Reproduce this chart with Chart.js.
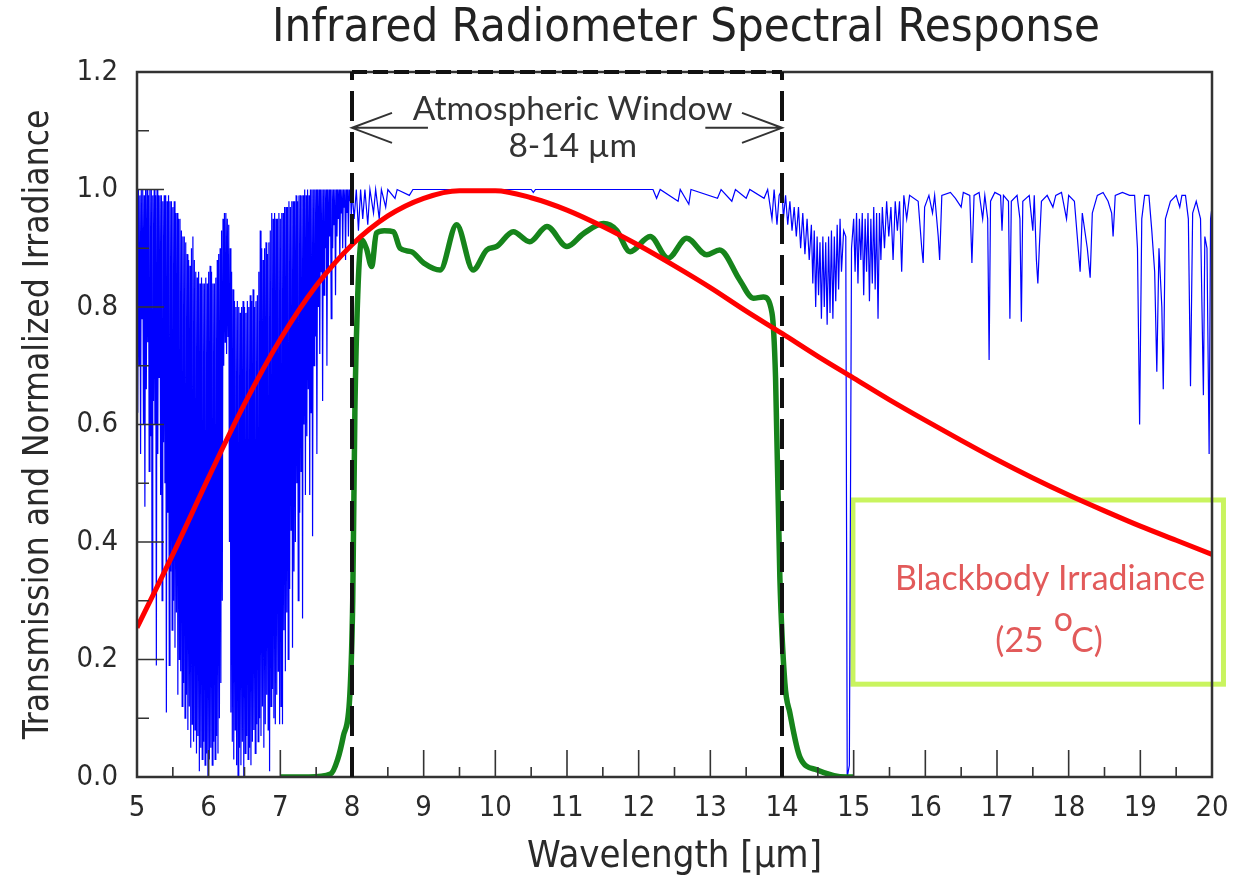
<!DOCTYPE html>
<html>
<head>
<meta charset="utf-8">
<title>Infrared Radiometer Spectral Response</title>
<script src="https://cdn.jsdelivr.net/npm/chart.js@4.4.1/dist/chart.umd.min.js"></script>
<style>
  html, body { margin: 0; padding: 0; background: #fff; }
  canvas { display: block; }
</style>
</head>
<body>
<canvas id="chart" width="1236" height="891"></canvas>
<script>
// Blackbody irradiance at 25 C, normalised to its peak
const blackbodyWl = [5, 5.5, 6, 6.5, 7, 7.5, 8, 8.5, 9, 9.5, 10, 10.5, 11, 11.5, 12, 12.5, 13, 13.5,
  14, 14.5, 15, 15.5, 16, 16.5, 17, 17.5, 18, 18.5, 19, 19.5, 20];
const blackbody = [0.254, 0.379, 0.510, 0.635, 0.745, 0.836, 0.906, 0.955, 0.985, 0.998, 0.998, 0.986,
  0.965, 0.937, 0.905, 0.870, 0.833, 0.793, 0.755, 0.716, 0.679, 0.642, 0.607, 0.573, 0.540, 0.509,
  0.480, 0.453, 0.427, 0.403, 0.379];

// radiometer response (green)
const responseWl = [7.0, 7.4, 7.7, 7.8, 7.88, 7.97, 8.01, 8.04, 8.08, 8.135, 8.2, 8.275, 8.34, 8.45,
  8.58, 8.67, 8.83, 9.0, 9.23, 9.46, 9.69, 9.88, 10.02, 10.25, 10.48, 10.72, 11.0, 11.23, 11.51, 11.69,
  11.88, 12.16, 12.41, 12.67, 12.95, 13.13, 13.41, 13.6, 13.74, 13.86, 13.91, 13.97, 14.04, 14.11,
  14.25, 14.49, 14.9, 15.0];
const response = [0, 0, 0.005, 0.03, 0.07, 0.14, 0.3, 0.62, 0.82, 0.914, 0.9, 0.869, 0.926, 0.93,
  0.928, 0.9, 0.894, 0.875, 0.863, 0.94, 0.863, 0.897, 0.903, 0.928, 0.911, 0.937, 0.903, 0.925, 0.942,
  0.931, 0.894, 0.92, 0.883, 0.917, 0.889, 0.897, 0.846, 0.815, 0.817, 0.79, 0.68, 0.34, 0.16, 0.109,
  0.034, 0.012, 0, 0];

// atmospheric transmission (blue), [wavelength, transmission]
const transmission = [
  // water vapour band
  [5.00,1.00],[5.01,0.62],[5.02,1.00],[5.03,0.70],[5.04,0.99],[5.05,0.55],[5.06,1.00],[5.07,0.78],
  [5.08,1.00],[5.09,0.60],[5.10,0.99],[5.11,0.46],[5.12,1.00],[5.13,0.66],[5.14,1.00],[5.15,0.74],
  [5.16,0.99],[5.17,0.52],[5.18,1.00],[5.19,0.58],[5.20,1.00],[5.21,0.31],[5.22,0.99],[5.23,0.64],
  [5.24,1.00],[5.25,0.60],[5.26,0.99],[5.27,0.19],[5.28,1.00],[5.29,0.55],[5.30,0.99],[5.31,0.68],
  [5.32,0.99],[5.33,0.48],[5.34,0.99],[5.35,0.30],[5.36,0.98],[5.37,0.57],[5.38,0.99],[5.39,0.50],
  [5.40,0.99],[5.41,0.11],[5.42,0.98],[5.43,0.45],[5.44,0.99],[5.45,0.19],[5.46,0.98],[5.47,0.35],
  [5.48,0.98],[5.49,0.25],[5.50,0.97],[5.51,0.30],[5.52,0.98],[5.53,0.22],[5.54,0.96],[5.55,0.28],
  [5.56,0.96],[5.57,0.14],[5.58,0.95],[5.59,0.20],[5.60,0.95],[5.61,0.18],[5.62,0.93],[5.63,0.12],
  [5.64,0.92],[5.65,0.16],[5.66,0.92],[5.67,0.10],[5.68,0.91],[5.69,0.14],[5.70,0.89],[5.71,0.08],
  [5.72,0.88],[5.73,0.12],[5.74,0.87],[5.75,0.05],[5.76,0.90],[5.77,0.09],[5.78,0.92],[5.79,0.06],
  [5.80,0.88],[5.81,0.08],[5.82,0.86],[5.83,0.04],[5.84,0.85],[5.85,0.07],[5.86,0.86],[5.87,0.01],
  [5.88,0.84],[5.89,0.05],[5.90,0.85],[5.91,0.03],[5.92,0.84],[5.93,0.06],[5.94,0.84],[5.95,0.02],
  [5.96,0.85],[5.97,0.04],[5.98,0.84],[5.99,0.00],[6.00,0.86],[6.01,0.03],[6.02,0.87],[6.03,0.05],
  [6.04,0.86],[6.05,0.02],[6.06,0.84],[6.07,0.06],[6.08,0.84],[6.09,0.03],[6.10,0.85],[6.11,0.07],
  [6.12,0.88],[6.13,0.04],[6.14,0.89],[6.15,0.10],[6.16,0.90],[6.17,0.16],[6.18,0.93],[6.19,0.30],
  [6.20,0.95],[6.21,0.70],[6.22,0.96],[6.23,0.74],[6.24,0.96],[6.25,0.72],[6.26,0.95],[6.27,0.75],
  [6.28,0.94],[6.29,0.40],[6.30,0.90],[6.31,0.11],[6.32,0.86],[6.33,0.06],[6.34,0.83],[6.35,0.03],
  [6.36,0.81],[6.37,0.08],[6.38,0.80],[6.39,0.02],[6.40,0.81],[6.41,0.00],[6.42,0.80],[6.43,0.05],
  [6.44,0.79],[6.45,0.02],[6.46,0.80],[6.47,0.06],[6.48,0.81],[6.49,0.00],[6.50,0.80],[6.51,0.04],
  [6.52,0.79],[6.53,0.07],[6.54,0.81],[6.55,0.03],[6.56,0.80],[6.57,0.05],[6.58,0.82],[6.59,0.02],
  [6.60,0.81],[6.61,0.06],[6.62,0.83],[6.63,0.08],[6.64,0.80],[6.65,0.04],[6.66,0.81],[6.67,0.09],
  [6.68,0.82],[6.69,0.06],[6.70,0.86],[6.71,0.10],[6.72,0.93],[6.73,0.07],[6.74,0.90],[6.75,0.12],
  [6.76,0.88],[6.77,0.05],[6.78,0.90],[6.79,0.09],[6.80,0.91],[6.81,0.14],[6.82,0.89],[6.83,0.08],
  [6.84,0.91],[6.85,0.01],[6.86,0.93],[6.87,0.12],[6.88,0.96],[6.89,0.15],[6.90,0.95],[6.91,0.10],
  [6.92,0.96],[6.93,0.09],[6.94,0.95],[6.95,0.14],[6.96,0.95],[6.97,0.18],[6.98,0.96],[6.99,0.09],
  [7.00,0.95],[7.01,0.12],[7.02,0.96],[7.03,0.09],[7.04,0.96],[7.05,0.25],[7.06,0.97],[7.07,0.18],
  [7.08,0.97],[7.09,0.28],[7.10,0.97],[7.11,0.20],[7.12,0.98],[7.13,0.32],[7.14,0.97],[7.15,0.42],
  [7.16,0.98],[7.17,0.22],[7.18,0.98],[7.19,0.35],[7.20,0.98],[7.21,0.40],[7.22,0.99],[7.23,0.50],
  [7.24,0.98],[7.25,0.30],[7.26,0.99],[7.27,0.45],[7.28,0.99],[7.29,0.52],[7.30,0.99],[7.31,0.27],
  [7.32,0.99],[7.33,0.60],[7.34,1.00],[7.35,0.48],[7.36,0.99],[7.37,0.58],[7.38,1.00],[7.39,0.66],
  [7.40,0.99],[7.41,0.48],[7.42,1.00],[7.43,0.62],[7.44,1.00],[7.45,0.41],[7.46,1.00],[7.47,0.70],
  [7.48,1.00],[7.49,0.75],[7.50,1.00],[7.51,0.55],[7.52,1.00],[7.53,0.80],[7.54,1.00],[7.55,0.72],
  [7.56,1.00],[7.57,0.86],[7.58,1.00],[7.59,0.64],[7.60,1.00],[7.61,0.82],[7.62,1.00],[7.63,0.90],
  [7.64,1.00],[7.65,0.70],[7.66,1.00],[7.67,0.86],[7.68,1.00],[7.69,0.92],[7.70,1.00],[7.71,0.78],
  [7.72,1.00],[7.73,0.90],[7.74,1.00],[7.75,0.94],[7.76,1.00],[7.77,0.82],[7.78,1.00],[7.79,0.92],
  [7.80,1.00],[7.81,0.95],[7.82,1.00],[7.83,0.88],[7.84,1.00],[7.85,0.96],[7.86,1.00],[7.87,0.90],
  [7.88,1.00],[7.89,0.97],[7.90,1.00],[7.91,0.88],[7.92,1.00],[7.93,0.96],[7.94,1.00],[7.95,0.92],
  [7.96,1.00],[7.97,0.98],[7.98,1.00],[7.99,0.95],
  // 8-14 window
  [8.00,1.00],[8.03,0.95],[8.06,1.00],[8.09,0.93],[8.12,1.00],[8.15,0.95],[8.18,1.00],[8.22,0.94],
  [8.25,1.00],[8.30,0.96],[8.33,1.00],[8.38,0.95],[8.41,1.00],[8.47,0.97],[8.50,1.00],[8.60,0.985],
  [8.63,1.00],[8.80,0.99],[8.85,1.00],[10.50,1.00],[10.53,0.995],[10.56,1.00],[12.20,1.00],
  [12.25,0.985],[12.30,1.00],[12.55,0.98],[12.58,1.00],[12.70,0.975],[12.73,1.00],[13.10,0.985],
  [13.15,1.00],[13.30,0.98],[13.35,1.00],[13.50,0.985],[13.55,1.00],[13.75,0.985],[13.80,1.00],
  [13.86,0.95],[13.89,1.00],[13.93,0.94],[13.96,0.99],
  // CO2 band
  [14.00,1.00],[14.02,0.95],[14.05,0.99],[14.08,0.94],[14.11,0.98],[14.14,0.93],[14.17,0.97],[14.20,0.92],
  [14.23,0.97],[14.26,0.90],[14.29,0.96],[14.32,0.89],[14.35,0.95],[14.38,0.88],[14.41,0.94],[14.43,0.84],
  [14.45,0.93],[14.47,0.80],[14.49,0.92],[14.51,0.82],[14.53,0.91],[14.55,0.78],[14.57,0.92],[14.59,0.80],
  [14.61,0.91],[14.63,0.77],[14.65,0.92],[14.67,0.79],[14.69,0.93],[14.71,0.78],[14.73,0.92],[14.75,0.81],
  [14.77,0.94],[14.79,0.83],[14.81,0.95],[14.83,0.86],[14.86,0.93],[14.89,0.92],[14.91,0.00],[14.94,0.02],
  [14.97,0.90],
  [15.00,0.95],[15.02,0.86],[15.04,0.96],[15.06,0.84],[15.08,0.95],[15.10,0.88],[15.12,0.96],[15.14,0.82],
  [15.16,0.95],[15.18,0.86],[15.20,0.96],[15.22,0.81],[15.24,0.95],[15.26,0.84],[15.28,0.97],[15.30,0.83],
  [15.32,0.96],[15.34,0.78],[15.36,0.96],[15.38,0.88],[15.40,0.97],[15.43,0.90],[15.46,0.98],[15.49,0.92],
  [15.52,0.97],[15.55,0.88],[15.58,0.98],[15.61,0.93],[15.64,0.98],[15.67,0.86],[15.70,0.99],[15.74,0.95],
  [15.78,0.99],
  // long-wave lines
  [15.90,0.98],[15.95,0.90],[15.97,0.875],[15.99,0.97],[16.05,0.99],[16.10,0.96],[16.13,0.99],[16.18,0.92],
  [16.20,0.88],[16.23,0.99],[16.35,0.995],[16.42,0.985],[16.50,0.97],[16.53,0.995],[16.62,0.99],[16.65,0.875],
  [16.68,0.99],[16.75,0.995],[16.80,0.95],[16.83,0.99],[16.87,0.95],[16.89,0.71],[16.91,0.98],[16.97,0.995],
  [17.05,0.99],[17.07,0.93],[17.09,0.99],[17.16,0.98],[17.18,0.78],[17.20,0.98],[17.28,0.99],[17.32,0.95],
  [17.34,0.775],[17.36,0.98],[17.45,0.99],[17.50,0.93],[17.52,0.99],[17.55,0.88],[17.57,0.84],[17.59,0.90],
  [17.62,0.98],[17.70,0.99],[17.78,0.97],[17.82,0.99],[17.90,0.995],[17.97,0.95],[18.00,0.99],[18.08,0.98],
  [18.12,0.92],[18.16,0.86],[18.19,0.96],[18.26,0.90],[18.30,0.85],[18.33,0.96],[18.40,0.99],[18.48,0.995],
  [18.55,0.98],[18.60,0.96],[18.62,0.92],[18.65,0.99],[18.75,0.995],[18.85,0.99],[18.92,0.99],[18.96,0.90],
  [18.99,0.60],[19.02,0.95],[19.06,0.99],[19.12,0.99],[19.16,0.93],[19.20,0.86],[19.23,0.69],[19.26,0.90],
  [19.30,0.80],[19.32,0.66],[19.35,0.95],[19.42,0.98],[19.50,0.99],[19.55,0.97],[19.58,0.99],[19.63,0.99],
  [19.67,0.95],[19.70,0.665],[19.73,0.96],[19.78,0.98],[19.84,0.95],[19.88,0.65],[19.90,0.92],[19.93,0.90],
  [19.96,0.55],[19.98,0.95],[20.00,0.97]
];

const xTicks = [5, 6, 7, 8, 9, 10, 11, 12, 13, 14, 15, 16, 17, 18, 19, 20];
const yTicks = [0, 0.2, 0.4, 0.6, 0.8, 1.0, 1.2];
const windowRange = [8, 14];

function hasFont(name) {
  const c = document.createElement('canvas').getContext('2d');
  c.font = '40px monospace';
  const base = c.measureText('Radiometer 0.8').width;
  c.font = `40px "${name}", monospace`;
  return c.measureText('Radiometer 0.8').width !== base;
}

const narrowName = ['Liberation Sans Narrow', 'DejaVu Sans Condensed', 'Roboto'].find(hasFont) || 'Open Sans';
const NARROW = `"${narrowName}", sans-serif`;
const PLAIN = 'Lato, "Open Sans", sans-serif';

// font size that makes a text span a given width
function fitSize(text, family, width) {
  const c = document.createElement('canvas').getContext('2d');
  c.font = `100px ${family}`;
  return 100 * width / c.measureText(text).width;
}

const yTitleSize = fitSize('Transmission and Normalized Irradiance', NARROW, 630);
const xTitleSize = fitSize('Wavelength [\u00b5m]', NARROW, 295);

function text(ctx, str, x, y, size, family, color, align = 'center') {
  ctx.font = `${size}px ${family}`;
  ctx.fillStyle = color;
  ctx.textAlign = align;
  ctx.textBaseline = 'alphabetic';
  ctx.fillText(str, x, y);
}

function arrow(ctx, from, to, y) {
  const dir = Math.sign(to - from);
  ctx.beginPath();
  ctx.moveTo(from, y);
  ctx.lineTo(to, y);
  ctx.moveTo(to - dir * 40, y - 15);
  ctx.lineTo(to, y);
  ctx.lineTo(to - dir * 40, y + 15);
  ctx.stroke();
}

const highlightBox = {
  id: 'highlightBox',
  beforeDatasetsDraw(chart) {
    const { ctx, scales: { x, y } } = chart;
    const l = x.getPixelForValue(14.99), r = x.getPixelForValue(20.16);
    const t = y.getPixelForValue(0.4715), b = y.getPixelForValue(0.158);
    ctx.save();
    ctx.strokeStyle = '#c9f45f';
    ctx.lineWidth = 5;
    ctx.strokeRect(l, t, r - l, b - t);
    ctx.restore();
  }
};

const decorations = {
  id: 'decorations',
  afterDatasetsDraw(chart) {
    const { ctx, chartArea: a, scales: { x, y } } = chart;
    ctx.save();

    // frame
    ctx.strokeStyle = '#333';
    ctx.lineWidth = 2.5;
    ctx.strokeRect(a.left, a.top, a.right - a.left, a.bottom - a.top);

    // inward tick marks
    ctx.lineWidth = 1.6;
    ctx.beginPath();
    for (let i = 0; i <= 30; i++) {
      const px = x.getPixelForValue(5 + i * 0.5);
      const len = i % 2 === 0 ? 27 : 10;
      ctx.moveTo(px, a.bottom);
      ctx.lineTo(px, a.bottom - len);
    }
    for (let i = 0; i <= 12; i++) {
      const py = y.getPixelForValue(i / 10);
      const len = i % 2 === 0 ? 27 : 12;
      ctx.moveTo(a.left, py);
      ctx.lineTo(a.left + len, py);
    }
    ctx.stroke();

    // atmospheric window markers
    const x8 = x.getPixelForValue(windowRange[0]);
    const x14 = x.getPixelForValue(windowRange[1]);
    ctx.strokeStyle = '#111';
    ctx.lineWidth = 4;
    ctx.setLineDash([30, 11]);
    ctx.beginPath();
    ctx.moveTo(x8, a.bottom); ctx.lineTo(x8, a.top);
    ctx.moveTo(x14, a.bottom); ctx.lineTo(x14, a.top);
    ctx.stroke();
    ctx.setLineDash([15, 6]);
    ctx.beginPath();
    ctx.moveTo(x8, a.top); ctx.lineTo(x14, a.top);
    ctx.stroke();
    ctx.setLineDash([]);

    const ay = y.getPixelForValue(1.105);
    ctx.strokeStyle = '#333';
    ctx.lineWidth = 2;
    arrow(ctx, x.getPixelForValue(9.06), x8, ay);
    arrow(ctx, x.getPixelForValue(12.93), x14, ay);

    const cx = x.getPixelForValue(11.08);
    const s1 = fitSize('Atmospheric Window', PLAIN, 320);
    text(ctx, 'Atmospheric Window', cx, y.getPixelForValue(1.118), s1, PLAIN, '#333');
    text(ctx, '8-14 \u00b5m', cx, y.getPixelForValue(1.055), s1, PLAIN, '#333');

    // blackbody label
    const red = '#e25a5a';
    const bx = x.getPixelForValue(17.74);
    const s2 = fitSize('Blackbody Irradiance', PLAIN, 310);
    text(ctx, 'Blackbody Irradiance', bx, y.getPixelForValue(0.318), s2, PLAIN, red);
    ctx.font = `${s2}px ${PLAIN}`;
    const w1 = ctx.measureText('(25').width, wGap = s2 * 0.3;
    const w2 = ctx.measureText('o').width, w3 = ctx.measureText('C)').width;
    let px = bx - (w1 + wGap + w2 + w3) / 2;
    const base = y.getPixelForValue(0.213);
    text(ctx, '(25', px, base, s2, PLAIN, red, 'left');
    px += w1 + wGap;
    text(ctx, 'o', px, base - s2 * 0.62, s2, PLAIN, red, 'left');
    px += w2 - 2;
    text(ctx, 'C)', px, base, s2, PLAIN, red, 'left');

    ctx.restore();
  },
  afterDraw(chart) {
    const { ctx } = chart;
    ctx.save();
    const size = fitSize('Infrared Radiometer Spectral Response', NARROW, 828);
    text(ctx, 'Infrared Radiometer Spectral Response', 686, 41, size, NARROW, '#222');
    ctx.restore();
  }
};

const axisColor = '#2a2a2a';

new Chart(document.getElementById('chart'), {
  type: 'line',
  data: {
    datasets: [
      {
        label: 'Blackbody Irradiance (25 \u00b0C)',
        data: blackbodyWl.map((w, i) => ({ x: w, y: blackbody[i] })),
        borderColor: '#ff0000',
        borderWidth: 5,
        pointRadius: 0,
        cubicInterpolationMode: 'monotone',
        order: 0
      },
      {
        label: 'Radiometer response',
        data: responseWl.map((w, i) => ({ x: w, y: response[i] })),
        borderColor: '#16841b',
        borderWidth: 5.5,
        pointRadius: 0,
        cubicInterpolationMode: 'monotone',
        order: 1
      },
      {
        label: 'Atmospheric transmission',
        data: transmission.map(([w, t]) => ({ x: w, y: t })),
        borderColor: '#0000ff',
        borderWidth: 1.2,
        pointRadius: 0,
        tension: 0,
        order: 2
      }
    ]
  },
  options: {
    responsive: false,
    animation: false,
    layout: { padding: { top: 72, right: 24, left: 0, bottom: 0 } },
    plugins: {
      legend: { display: false },
      tooltip: { enabled: false }
    },
    scales: {
      x: {
        type: 'linear',
        min: 5,
        max: 20,
        afterBuildTicks: s => { s.ticks = xTicks.map(v => ({ value: v })); },
        afterFit: s => { s.height = 114; s.paddingLeft = 0; s.paddingRight = 0; },
        grid: { display: false, drawTicks: false },
        border: { display: false },
        ticks: {
          autoSkip: false,
          maxRotation: 0,
          padding: 14,
          color: axisColor,
          font: { family: NARROW, size: 29 }
        },
        title: {
          display: true,
          text: 'Wavelength [\u00b5m]',
          color: axisColor,
          font: { family: NARROW, size: xTitleSize },
          padding: { top: 0, bottom: 34 - 0.6 * xTitleSize }
        }
      },
      y: {
        min: 0,
        max: 1.2,
        afterBuildTicks: s => { s.ticks = yTicks.map(v => ({ value: v })); },
        afterFit: s => { s.width = 137; s.paddingTop = 0; s.paddingBottom = 0; },
        grid: { display: false, drawTicks: false },
        border: { display: false },
        ticks: {
          padding: 19,
          color: axisColor,
          font: { family: NARROW, size: 29 },
          callback: v => v.toFixed(1)
        },
        title: {
          display: true,
          text: 'Transmission and Normalized Irradiance',
          color: axisColor,
          font: { family: NARROW, size: yTitleSize },
          padding: { top: 39 - 0.6 * yTitleSize, bottom: 0 }
        }
      }
    }
  },
  plugins: [highlightBox, decorations]
});
</script>
</body>
</html>
